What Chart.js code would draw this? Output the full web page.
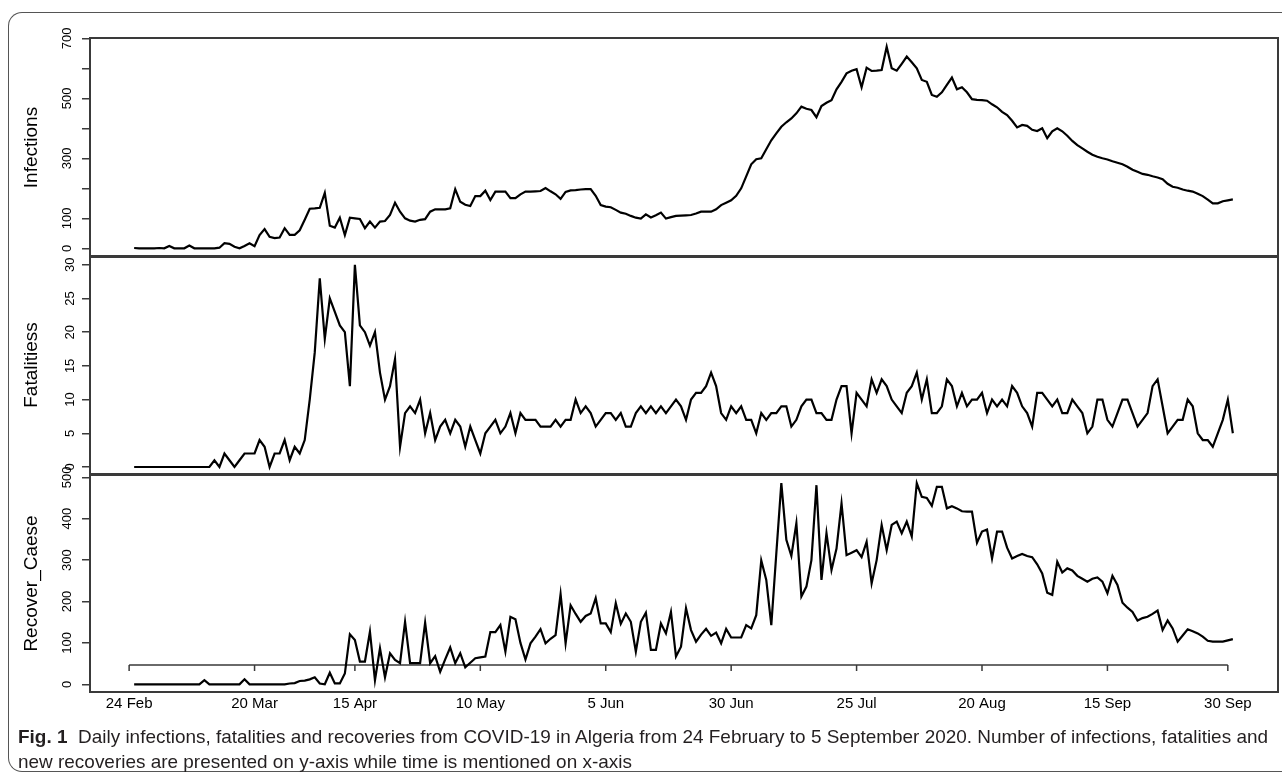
<!DOCTYPE html>
<html>
<head>
<meta charset="utf-8">
<script src="https://cdn.jsdelivr.net/npm/chart.js"></script>
<style>
html,body{margin:0;padding:0;background:#fff;width:1282px;height:778px;overflow:hidden;position:relative;font-family:"Liberation Sans",Arial,sans-serif;}
#frame{position:absolute;left:8px;top:12px;width:1320px;height:760px;border:1.5px solid #555;border-right:none;border-radius:14px 0 0 14px;box-sizing:border-box;}
canvas{position:absolute;left:0;}
#cap{position:absolute;left:18px;top:724px;color:#231f20;}
.capline{white-space:nowrap;font-size:19px;line-height:25px;transform-origin:0 50%;}
.capline span{display:inline-block;}
</style>
</head>
<body>
<div id="frame"></div>
<canvas id="c1" width="1282" height="280" style="top:0px;width:1282px;height:280px"></canvas>
<canvas id="c2" width="1282" height="254" style="top:236px;width:1282px;height:254px"></canvas>
<canvas id="c3" width="1282" height="280" style="top:450px;width:1282px;height:280px"></canvas>
<div id="cap">
  <div id="l1" class="capline"><span id="l1s"><b>Fig. 1</b>&nbsp; Daily infections, fatalities and recoveries from COVID-19 in Algeria from 24 February to 5 September 2020. Number of infections, fatalities and</span></div>
  <div id="l2" class="capline"><span id="l2s">new recoveries are presented on y-axis while time is mentioned on x-axis</span></div>
</div>
<script>
// ---- tick positions (day index from 24 Feb) and labels ----
const xTickIdx = [0, 25, 45, 70, 95, 120, 145, 170, 195, 219];
const xTickLabels = ["24 Feb", "20 Mar", "15 Apr", "10 May", "5 Jun", "30 Jun", "25 Jul", "20 Aug", "15 Sep", "30 Sep"];

const infTicks = [0, 100, 200, 300, 400, 500, 600, 700];
const infTickLabels = ["0", "100", "", "300", "", "500", "", "700"];
const fatTicks = [0, 5, 10, 15, 20, 25, 30];
const fatTickLabels = ["0", "5", "10", "15", "20", "25", "30"];
const recTicks = [0, 100, 200, 300, 400, 500];
const recTickLabels = ["0", "100", "200", "300", "400", "500"];

// ---- daily series (day 1 = 25 Feb) ----
const infections = [
  1,0,0,0,0,1,0,8,0,0,
  0,9,0,0,0,0,0,2,17,15,
  5,0,8,17,7,44,64,38,34,36,
  67,45,45,60,95,132,133,135,185,75,
  69,102,44,102,100,98,67,89,69,89,
  91,111,152,122,100,92,89,95,97,122,
  130,130,130,133,197,155,145,141,174,174,
  192,161,189,189,189,167,167,180,189,189,
  190,191,201,190,180,165,188,193,194,196,
  197,197,175,144,139,137,128,119,115,108,
  102,99,113,103,110,119,99,104,108,109,
  110,111,116,122,122,122,130,144,152,160,
  175,200,240,280,297,300,330,360,383,405,
  420,433,450,472,465,461,437,474,485,494,
  530,555,583,592,597,537,602,591,592,594,
  672,600,592,615,639,620,600,561,555,511,
  505,520,545,569,530,537,520,497,495,494,
  492,480,470,455,444,425,403,411,408,395,
  391,400,367,390,400,390,375,358,344,333,
  322,312,305,300,296,290,285,280,272,262,
  255,248,245,240,236,230,215,205,202,196,
  192,189,182,174,162,150,150,157,160,163
];
const fatalities = [
  0,0,0,0,0,0,0,0,0,0,
  0,0,0,0,0,0,1,0,2,1,
  0,1,2,2,2,4,3,0,2,2,
  4,1,3,2,4,10,17,28,19,25,
  23,21,20,12,30,21,20,18,20,14,
  10,12,16,3,8,9,8,10,5,8,
  4,6,7,5,7,6,3,6,4,2,
  5,6,7,5,6,8,5,8,7,7,
  7,6,6,6,7,6,7,7,10,8,
  9,8,6,7,8,8,7,8,6,6,
  8,9,8,9,8,9,8,9,10,9,
  7,10,11,11,12,14,12,8,7,9,
  8,9,7,7,5,8,7,8,8,9,
  9,6,7,9,10,10,8,8,7,7,
  10,12,12,5,11,10,9,13,11,13,
  12,10,9,8,11,12,14,10,13,8,
  8,9,13,12,9,11,9,10,10,11,
  8,10,9,10,9,12,11,9,8,6,
  11,11,10,9,10,8,8,10,9,8,
  5,6,10,10,7,6,8,10,10,8,
  6,7,8,12,13,9,5,6,7,7,
  10,9,5,4,4,3,5,7,10,5
];
const recoveries = [
  0,0,0,0,0,0,0,0,0,0,
  0,0,0,0,10,0,0,0,0,0,
  0,0,12,0,0,0,0,0,0,0,
  0,2,3,8,9,12,17,2,0,28,
  2,2,26,121,107,55,55,127,10,87,
  17,75,59,51,151,51,51,51,149,51,
  68,30,60,89,51,75,41,52,63,65,
  67,126,126,143,79,163,157,100,60,99,
  115,133,99,110,119,218,99,191,170,151,
  165,171,208,147,147,126,196,146,171,151,
  79,151,173,83,83,147,123,175,67,91,
  184,131,103,120,134,117,125,99,134,113,
  113,113,143,135,167,299,252,143,316,486,
  349,310,389,212,236,300,481,252,365,276,
  328,437,312,318,324,307,344,244,300,385,
  324,385,393,365,393,357,486,453,450,431,
  477,477,425,430,425,418,417,417,342,369,
  374,304,369,369,330,304,310,315,310,307,
  290,268,221,216,296,270,280,275,262,255,
  248,255,258,248,220,262,240,197,185,175,
  154,160,163,170,178,131,154,135,103,118,
  133,128,123,115,105,103,103,103,106,109
];

const FONT = "'Liberation Sans', Arial, Helvetica, sans-serif";
Chart.defaults.font.family = FONT;
Chart.defaults.color = '#000';

const X_MIN = -7.8, X_MAX = 229;
const BOX_COLOR = '#3a3a3a';

const boxPlugin = {
  id: 'panelBox',
  afterDraw(chart) {
    const a = chart.chartArea, ctx = chart.ctx;
    ctx.save();
    ctx.strokeStyle = BOX_COLOR;
    ctx.lineWidth = 2;
    ctx.strokeRect(a.left, a.top, a.right - a.left, a.bottom - a.top);
    ctx.restore();
  }
};

// R-style axis line (first to last tick) drawn inside the bottom panel
const innerAxisPlugin = {
  id: 'innerAxis',
  beforeDatasetsDraw(chart) {
    const ctx = chart.ctx, x = chart.scales.x, a = chart.chartArea;
    const y = a.bottom - 27;
    const x0 = x.getPixelForValue(xTickIdx[0]);
    const x1 = x.getPixelForValue(xTickIdx[xTickIdx.length - 1]);
    ctx.save();
    ctx.strokeStyle = BOX_COLOR;
    ctx.lineWidth = 1.5;
    ctx.beginPath();
    ctx.moveTo(x0, y); ctx.lineTo(x1, y);
    xTickIdx.forEach(t => {
      const px = x.getPixelForValue(t);
      ctx.moveTo(px, y); ctx.lineTo(px, y + 6);
    });
    ctx.stroke();
    ctx.restore();
  }
};

function makeChart(id, values, yTicks, yLabels, title, yMin, yMax, pad, showX) {
  const pts = values.map((v, k) => ({ x: k + 1, y: v }));
  const plugins = [boxPlugin];
  if (showX) plugins.push(innerAxisPlugin);
  const xScale = {
    type: 'linear', min: X_MIN, max: X_MAX, display: showX, position: 'bottom',
    afterBuildTicks: s => { s.ticks = xTickIdx.map(v => ({ value: v })); },
    grid: { display: false, drawTicks: false },
    border: { display: false },
    ticks: { autoSkip: false, maxRotation: 0, minRotation: 0, padding: 3,
             callback: (v, i) => xTickLabels[i], font: { size: 15 }, color: '#000' }
  };
  if (showX) xScale.afterFit = s => { s.height = 30; s.paddingLeft = 0; s.paddingRight = 0; };
  return new Chart(document.getElementById(id), {
    type: 'line',
    data: { datasets: [{ data: pts, borderColor: '#000', borderWidth: 2.2, pointRadius: 0, tension: 0, fill: false }] },
    options: {
      responsive: false, maintainAspectRatio: false, animation: false,
      layout: { padding: pad },
      plugins: { legend: { display: false }, tooltip: { enabled: false } },
      scales: {
        x: xScale,
        y: {
          type: 'linear', min: yMin, max: yMax, position: 'left',
          afterBuildTicks: s => { s.ticks = yTicks.map(v => ({ value: v })); },
          afterFit: s => { s.width = 90; s.paddingTop = 0; s.paddingBottom = 0; },
          grid: { drawOnChartArea: false, drawTicks: true, tickLength: 8, color: BOX_COLOR, lineWidth: 1.5 },
          border: { display: false },
          ticks: { autoSkip: false, minRotation: 90, maxRotation: 90, crossAlign: 'center', padding: 4,
                   callback: (v, i) => yLabels[i], font: { size: 13 }, color: '#000' },
          title: { display: true, text: title, font: { size: 19 }, color: '#000', padding: { top: 20, bottom: 0 } }
        }
      }
    },
    plugins: plugins
  });
}

// canvas c1 top 0   -> chart area 38..257
// canvas c2 top 236 -> chart area 256..474
// canvas c3 top 450 -> chart area 475..692
makeChart('c1', infections, infTicks, infTickLabels, 'Infections', -29, 701,
  { top: 38, left: 0, right: 4, bottom: 23 }, false);
makeChart('c2', fatalities, fatTicks, fatTickLabels, 'Fatalitiess', -1.04, 31.3,
  { top: 20, left: 0, right: 4, bottom: 16 }, false);
makeChart('c3', recoveries, recTicks, recTickLabels, 'Recover_Caese', -18.6, 505.6,
  { top: 25, left: 0, right: 4, bottom: 8 }, true);

// caption: line 1 fitted to the text width
(function () {
  const w1 = document.getElementById('l1s').getBoundingClientRect().width;
  const s = 1250 / w1;
  document.getElementById('l1').style.transform = 'scaleX(' + s + ')';
  document.getElementById('l2').style.transform = 'scaleX(' + s + ')';
})();
</script>
</body>
</html>
